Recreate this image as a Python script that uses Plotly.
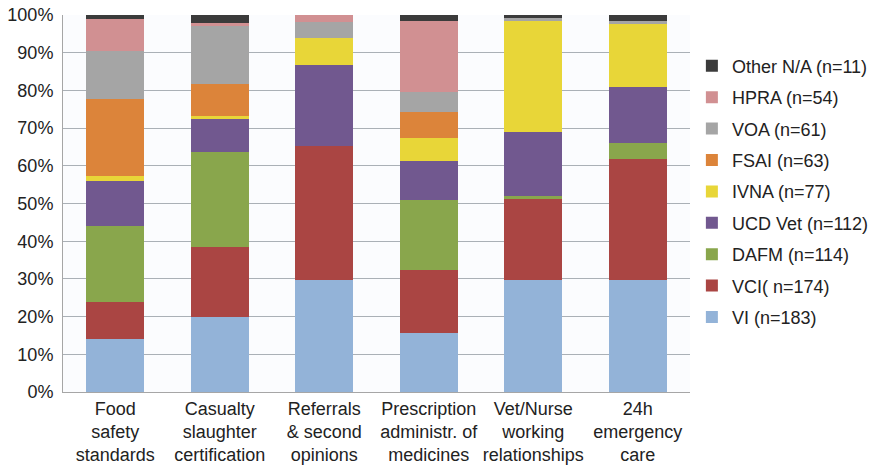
import plotly.graph_objects as go

# Question areas (x categories), multi-line labels
categories = [
    "Food<br>safety<br>standards",
    "Casualty<br>slaughter<br>certification",
    "Referrals<br>& second<br>opinions",
    "Prescription<br>administr. of<br>medicines",
    "Vet/Nurse<br>working<br>relationships",
    "24h<br>emergency<br>care",
]

# Share of respondents (%) citing each organisation, per question area
vi = [14.0, 20.0, 29.7, 15.6, 29.7, 29.7]
vci = [10.0, 18.4, 35.6, 16.7, 21.5, 32.0]
dafm = [20.0, 25.3, 0.0, 18.7, 0.8, 4.3]
ucd_vet = [12.0, 8.6, 21.4, 10.4, 16.9, 15.0]
ivna = [1.3, 0.8, 7.3, 5.9, 29.5, 16.6]
fsai = [20.4, 8.5, 0.0, 7.0, 0.0, 0.0]
voa = [12.8, 15.6, 4.1, 5.4, 0.8, 0.8]
hpra = [8.5, 0.8, 1.9, 18.7, 0.0, 0.0]
other_na = [1.0, 2.0, 0.0, 1.6, 0.8, 1.6]

series = [
    ("VI (n=183)", vi, "#93b3d8"),
    ("VCI( n=174)", vci, "#aa4543"),
    ("DAFM (n=114)", dafm, "#89a64c"),
    ("UCD Vet (n=112)", ucd_vet, "#71588f"),
    ("IVNA (n=77)", ivna, "#e8d638"),
    ("FSAI (n=63)", fsai, "#dc843a"),
    ("VOA (n=61)", voa, "#a5a5a5"),
    ("HPRA (n=54)", hpra, "#d19092"),
    ("Other N/A (n=11)", other_na, "#3b3b3b"),
]

y_ticks = list(range(0, 101, 10))

font_family = "Liberation Sans, Arial, Helvetica, sans-serif"
text_color = "#222222"

fig = go.Figure()
n_series = len(series)
for i, (name, values, color) in enumerate(series):
    fig.add_trace(go.Bar(
        x=categories,
        y=values,
        name=name,
        marker=dict(color=color, line=dict(width=0)),
        legendgroup=name,
        legendrank=n_series - i,  # top of the stack listed first
    ))

fig.update_layout(
    barmode="stack",
    bargap=0.445,
    width=875,
    height=466,
    margin=dict(l=63, r=185, t=15, b=74, autoexpand=False),
    paper_bgcolor="white",
    plot_bgcolor="#fbfcfe",
    font=dict(family=font_family, size=18, color=text_color),
    legend=dict(
        traceorder="grouped",
        tracegroupgap=5,
        x=1.003,
        xanchor="left",
        y=0.9135,
        yanchor="top",
        font=dict(size=18, color=text_color),
        bgcolor="rgba(0,0,0,0)",
        itemclick=False,
    ),
    showlegend=True,
)

fig.update_yaxes(
    range=[0, 100],
    tickvals=y_ticks,
    ticktext=[f"{v}%" for v in y_ticks],
    showgrid=True,
    gridcolor="#aab0b6",
    gridwidth=1,
    zeroline=False,
    showline=True,
    linecolor="#a6a6a6",
    linewidth=1,
    ticks="",
    ticklabelstandoff=5,
    tickfont=dict(size=18, color=text_color),
    automargin=False,
)

fig.update_xaxes(
    showline=True,
    linecolor="#a6a6a6",
    linewidth=1,
    ticks="",
    tickfont=dict(size=18, color=text_color),
    ticklabelstandoff=0,
    automargin=False,
)

fig.write_html("out.html")
